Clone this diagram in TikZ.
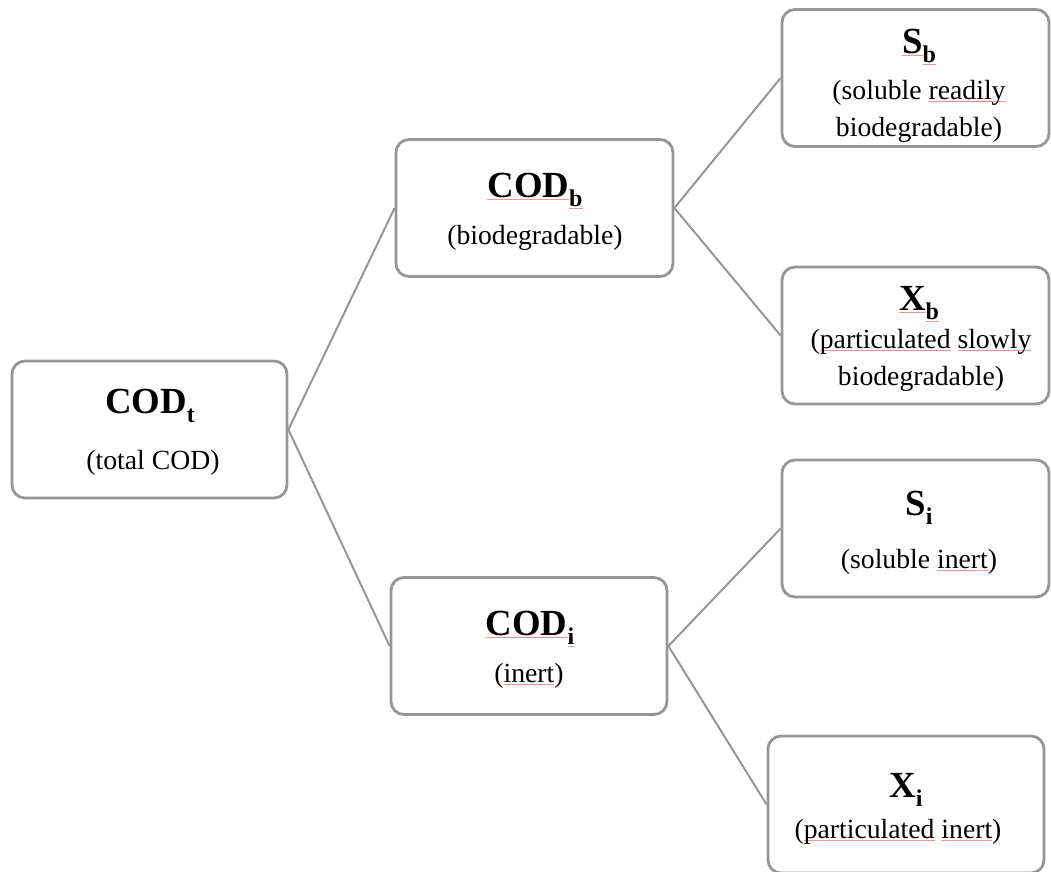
\documentclass[tikz,border=0pt]{standalone}
\usepackage{fontspec}
\setmainfont{Liberation Serif}
\definecolor{boxgray}{RGB}{150,150,150}
\definecolor{squig}{RGB}{240,150,150}
\newcommand\sq[1]{\setbox0\hbox{#1}\rlap{\color{squig}\rule[-3pt]{\wd0}{0.7pt}}\box0\relax}
\newcommand\subs[1]{\raisebox{-9pt}{\fontsize{24}{24}\selectfont\bfseries #1}}
\begin{document}
\begin{tikzpicture}[x=1pt,y=-1pt,
  box/.style={draw=boxgray, line width=2.8pt, rounded corners=13pt, fill=white,
    rectangle, inner sep=0pt, minimum height=137pt},
  link/.style={draw=boxgray, line width=2pt},
  ttl/.style={anchor=base, inner sep=0pt, font=\fontsize{36.8}{40}\selectfont\bfseries},
  dsc/.style={anchor=base, inner sep=0pt, align=center, font=\fontsize{27.7}{37}\selectfont}]
\useasboundingbox (0,0) rectangle (1051,871);
% boxes
\node[box, minimum width=275pt] (t)  at (149.5,429.5) {};
\node[box, minimum width=277pt] (b)  at (534.5,208) {};
\node[box, minimum width=276pt] (i)  at (529,646) {};
\node[box, minimum width=267pt] (sb) at (915.5,78) {};
\node[box, minimum width=267pt] (xb) at (915.5,335.5) {};
\node[box, minimum width=267pt] (si) at (915.5,528.5) {};
\node[box, minimum width=276pt] (xi) at (906,804.5) {};
% connectors
\draw[link] (t.east) -- (b.west);
\draw[link] (t.east) -- (i.west);
\draw[link] (b.east) -- (sb.west);
\draw[link] (b.east) -- (xb.west);
\draw[link] (i.east) -- (si.west);
\draw[link] (i.east) -- (xi.west);
% texts
\node[ttl] (tt) at (150,413) {COD\subs{t}};
\node[dsc] (td) at (153,469) {(total COD)};
\node[ttl] (bt) at (535,197) {\sq{COD}\subs{\sq{b}}};
\node[dsc] (bd) at (535,244) {(biodegradable)};
\node[ttl] (it) at (530,635) {\sq{COD}\subs{\sq{i}}};
\node[dsc] (id) at (529,682) {(\sq{inert})};
\node[ttl] (sbt) at (919,53) {\sq{S}\subs{\sq{b}}};
\node[dsc] (sbd) at (919,136) {(soluble \sq{readily}\\biodegradable)};
\node[ttl] (xbt) at (919,310) {\sq{X}\subs{\sq{b}}};
\node[dsc] (xbd) at (921,385) {(\sq{particulated} \sq{slowly}\\biodegradable)};
\node[ttl] (sit) at (919,515) {S\subs{i}};
\node[dsc] (sid) at (919,568) {(soluble \sq{inert})};
\node[ttl] (xit) at (906,797) {X\subs{i}};
\node[dsc] (xid) at (898,838) {(\sq{particulated} \sq{inert})};
\end{tikzpicture}
\end{document}
